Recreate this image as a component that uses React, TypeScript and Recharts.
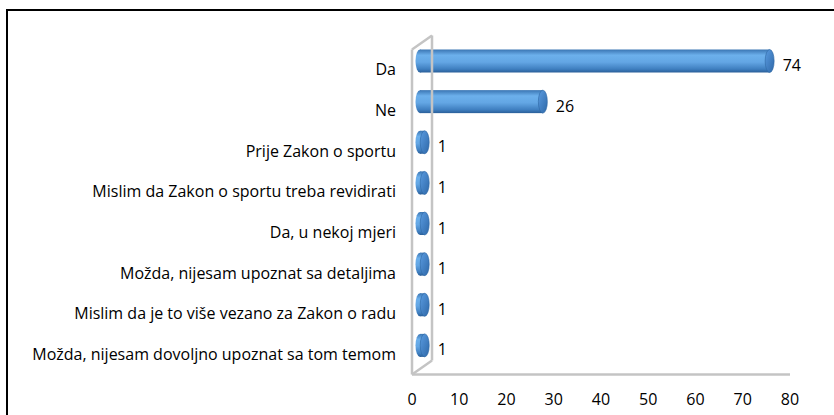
import { BarChart, Bar, XAxis, YAxis, LabelList, ReferenceLine } from "recharts";

const categories = [
  "Da",
  "Ne",
  "Prije Zakon o sportu",
  "Mislim da Zakon o sportu treba revidirati ",
  "Da, u nekoj mjeri",
  "Možda, nijesam upoznat sa detaljima",
  "Mislim da je to više vezano za Zakon o radu",
  "Možda, nijesam dovoljno upoznat sa tom temom",
];
const values = [74, 26, 1, 1, 1, 1, 1, 1];
const xTicks = [0, 10, 20, 30, 40, 50, 60, 70, 80];

const data = categories.map((name, i) => ({ name, value: values[i] }));

// 3d depth offset for bars and wall
const DX = 8;
const DY = -9;
const WALL_DX = 20;
const WALL_DY = -14;
const FONT = "'Open Sans', sans-serif";
const FONT_SIZE = 16;

function CylinderBar(props: any) {
  const { x, y, width, height } = props;
  const bx = x + DX;
  const by = y + DY;
  const rx = 4.5;
  const ry = height / 2;
  return (
    <g>
      <ellipse cx={bx} cy={by + ry} rx={rx} ry={ry} fill="url(#cylBody)" />
      <rect x={bx} y={by} width={Math.max(width, 0)} height={height} fill="url(#cylBody)" />
      <ellipse cx={bx + width} cy={by + ry} rx={rx} ry={ry} fill="url(#cylCap)" stroke="#2d66a3" strokeWidth={0.6} />
    </g>
  );
}

function ValueLabel(props: any) {
  const { x, y, width, height, value } = props;
  return (
    <text
      x={x + width + DX + 13}
      y={y + height / 2 + DY + 4}
      dominantBaseline="central"
      fontSize={FONT_SIZE}
      fontFamily={FONT}
      fill="#000"
    >
      {value}
    </text>
  );
}

function Wall(props: any) {
  const { x1, y1, x2, y2 } = props;
  const top = Math.min(y1, y2);
  const bottom = Math.max(y1, y2);
  const x = x1;
  return (
    <g stroke="#c4c4c4" strokeWidth={2.5} fill="none">
      <line x1={x} y1={top} x2={x} y2={bottom} />
      <line x1={x + WALL_DX} y1={top + WALL_DY} x2={x + WALL_DX} y2={bottom + WALL_DY} />
      <line x1={x} y1={top} x2={x + WALL_DX} y2={top + WALL_DY} />
      <line x1={x} y1={bottom} x2={x + WALL_DX} y2={bottom + WALL_DY} />
    </g>
  );
}

export default function App() {
  return (
    <div>
      <style>{`body{margin:0;overflow:hidden;background:#fff}`}</style>
      <div
        style={{
          position: "absolute",
          left: 6,
          top: 9,
          width: 840,
          height: 420,
          border: "2px solid #000",
        }}
      >
        <BarChart
          width={826}
          height={405}
          data={data}
          layout="vertical"
          margin={{ top: 38.5, right: 44, left: 10, bottom: 11.5 }}
        >
          <defs>
            <linearGradient id="cylBody" x1="0" y1="0" x2="0" y2="1">
              <stop offset="0%" stopColor="#3a75b3" />
              <stop offset="25%" stopColor="#6cb0ec" />
              <stop offset="55%" stopColor="#63a6e4" />
              <stop offset="85%" stopColor="#3f7fc0" />
              <stop offset="100%" stopColor="#2a5f99" />
            </linearGradient>
            <linearGradient id="cylCap" x1="0" y1="0" x2="1" y2="1">
              <stop offset="0%" stopColor="#5a9be0" />
              <stop offset="100%" stopColor="#2e68a8" />
            </linearGradient>
          </defs>
          <XAxis
            type="number"
            domain={[0, 80]}
            ticks={xTicks}
            height={30}
            tickSize={0}
            tickMargin={19}
            axisLine={{ stroke: "#c4c4c4", strokeWidth: 2.5 }}
            tick={{ fill: "#000", fontSize: FONT_SIZE, fontFamily: FONT }}
          />
          <YAxis
            type="category"
            dataKey="name"
            width={394}
            tickSize={0}
            tickMargin={16}
            axisLine={false}
            interval={0}
            tick={{ fill: "#000", fontSize: FONT_SIZE, fontFamily: FONT }}
          />
          <ReferenceLine x={0} shape={<Wall />} />
          <Bar dataKey="value" barSize={23} shape={<CylinderBar />} isAnimationActive={false}>
            <LabelList dataKey="value" content={<ValueLabel />} />
          </Bar>
        </BarChart>
      </div>
    </div>
  );
}
